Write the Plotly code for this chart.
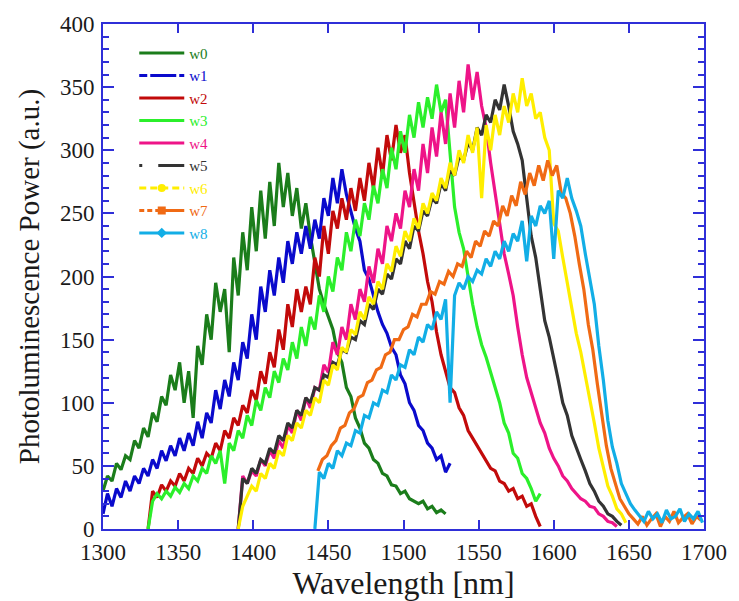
import plotly.graph_objects as go

STEP = 3

W0_START = 1300
W0 = [30, 42, 38, 52, 47, 58, 55, 70, 64, 80, 73, 92, 85, 105, 98, 122, 110, 132, 100, 125,
      88, 145, 130, 170, 150, 195, 172, 190, 140, 215, 185, 235, 205, 255, 220, 268, 230, 275,
      240, 290, 255, 282, 248, 270, 238, 258, 232, 210, 190, 178, 168, 158, 140, 132, 112, 105,
      88, 80, 68, 64, 55, 52, 44, 42, 35, 34, 28, 30, 24, 22, 20, 22, 16, 18, 13, 15, 12]

W1_START = 1300
W1 = [12, 28, 18, 32, 25, 38, 30, 42, 36, 48, 42, 55, 48, 62, 54, 66, 58, 72, 62, 76, 66, 85,
      72, 92, 84, 110, 95, 118, 105, 132, 118, 148, 135, 170, 150, 192, 172, 205, 185, 215, 195,
      228, 210, 235, 218, 240, 222, 245, 230, 262, 248, 278, 258, 285, 265, 252, 238, 228, 205,
      198, 185, 172, 162, 155, 144, 138, 122, 115, 100, 94, 82, 78, 68, 64, 55, 58, 45, 52]

W2_START = 1330
W2 = [0, 30, 25, 35, 30, 38, 34, 44, 38, 48, 44, 56, 50, 60, 56, 68, 62, 78, 72, 88, 82, 98,
      92, 110, 102, 125, 115, 140, 128, 158, 142, 178, 160, 190, 172, 192, 178, 215, 200, 240,
      218, 252, 238, 262, 245, 270, 252, 278, 260, 290, 270, 302, 280, 312, 292, 320, 298, 312,
      282, 258, 236, 218, 196, 180, 156, 138, 125, 112, 108, 96, 90, 78, 72, 66, 60, 55, 48,
      46, 38, 36, 30, 32, 24, 26, 18, 20, 10, 2]

W3_START = 1330
W3 = [0, 22, 28, 24, 30, 26, 33, 29, 36, 32, 42, 38, 48, 44, 58, 52, 62, 36, 68, 62, 78, 72,
      90, 82, 102, 94, 112, 104, 125, 116, 135, 126, 148, 135, 160, 145, 168, 158, 185, 172,
      200, 188, 215, 205, 235, 220, 245, 232, 258, 245, 272, 258, 285, 270, 302, 285, 315, 298,
      328, 310, 338, 318, 342, 325, 352, 330, 340, 300, 255, 235, 222, 200, 178, 160, 146, 136,
      124, 110, 100, 84, 76, 60, 56, 44, 40, 32, 22, 28]

W4_START = 1390
W4 = [0, 42, 36, 46, 42, 55, 50, 62, 56, 70, 64, 82, 76, 94, 86, 104, 96, 112, 110, 130, 124,
      148, 138, 160, 150, 178, 166, 190, 180, 208, 195, 222, 210, 240, 228, 250, 238, 268, 255,
      285, 268, 305, 282, 318, 295, 330, 305, 345, 318, 355, 330, 368, 340, 362, 335, 318, 290,
      265, 240, 218, 202, 185, 160, 138, 120, 108, 96, 84, 76, 64, 56, 50, 42, 38, 32, 28, 24,
      22, 18, 17, 12, 10, 6, 5, 2]

W5_START = 1390
W5 = [0, 40, 36, 48, 44, 55, 52, 64, 60, 74, 70, 84, 80, 94, 90, 104, 100, 112, 110, 122, 120,
      132, 130, 142, 140, 152, 150, 165, 162, 178, 174, 190, 186, 202, 198, 214, 210, 228, 222,
      240, 236, 252, 248, 262, 258, 274, 268, 285, 280, 295, 292, 306, 300, 318, 312, 328, 322,
      340, 332, 352, 335, 315, 305, 292, 262, 232, 215, 190, 165, 152, 136, 118, 100, 90, 74,
      64, 55, 46, 36, 30, 22, 18, 12, 10, 6, 3]

W6_START = 1390
W6 = [0, 18, 26, 34, 30, 44, 40, 52, 48, 62, 58, 74, 70, 84, 80, 94, 90, 104, 100, 118, 114,
      130, 126, 144, 140, 158, 154, 172, 166, 184, 178, 196, 190, 210, 204, 224, 216, 236, 228,
      246, 238, 258, 250, 266, 260, 278, 270, 290, 280, 300, 290, 312, 298, 318, 262, 320, 300,
      328, 312, 335, 322, 345, 330, 357, 335, 345, 325, 330, 310, 300, 242, 236, 215, 195, 172,
      155, 140, 122, 104, 84, 64, 48, 34, 26, 16, 12, 5]

W7_START = 1443
W7 = [46, 55, 58, 66, 70, 80, 82, 92, 95, 104, 106, 116, 118, 126, 128, 138, 140, 150, 150,
      158, 160, 170, 168, 178, 178, 188, 186, 196, 194, 204, 200, 210, 208, 220, 215, 228, 224,
      236, 232, 244, 240, 256, 248, 264, 256, 275, 265, 282, 272, 288, 276, 292, 280, 288, 266,
      262, 250, 232, 210, 190, 162, 142, 115, 90, 66, 48, 36, 24, 18, 12, 8, 4, 10, 3, 8, 12,
      2, 10, 6, 14, 5, 9, 12, 4, 10, 7]

W8_START = 1441
W8 = [0, 45, 40, 52, 48, 62, 58, 68, 66, 78, 76, 90, 88, 100, 98, 110, 108, 122, 118, 130, 128,
      142, 138, 152, 148, 162, 158, 172, 166, 182, 100, 185, 195, 190, 200, 196, 205, 202, 214,
      208, 220, 214, 228, 220, 234, 228, 244, 212, 248, 240, 256, 250, 260, 214, 268, 262, 278,
      262, 252, 240, 218, 198, 178, 145, 118, 86, 65, 52, 36, 28, 20, 15, 10, 6, 14, 8, 12, 5,
      15, 8, 10, 16, 6, 12, 8, 14, 5]

NAMES = ["w0", "w1", "w2", "w3", "w4", "w5", "w6", "w7", "w8"]
STARTS = [W0_START, W1_START, W2_START, W3_START, W4_START, W5_START, W6_START, W7_START, W8_START]
VALUES = [W0, W1, W2, W3, W4, W5, W6, W7, W8]
COLORS = ["#1b7d1b", "#0a0acc", "#c20a0a", "#2bef2b", "#ee1488",
          "#333333", "#ffee00", "#f06a14", "#12aee6"]
LEG_DASH = ["solid", "8px,3px,26px,3px", "solid", "solid", "solid",
            "3px,16px,28px,3px", "7px,4px", "5px,3px,5px,3px,40px,3px", "solid"]
LEG_MARK = [None, None, None, None, None, None, "circle", "square", "diamond"]

X_TICKS = [1300, 1350, 1400, 1450, 1500, 1550, 1600, 1650, 1700]
Y_TICKS = [0, 50, 100, 150, 200, 250, 300, 350, 400]

AXIS_BLUE = "#2f2fd8"
FONT = "'Liberation Serif', 'Times New Roman', Times, serif"
TXT = "#1a1a1a"

fig = go.Figure()
for name, start, vals, col in zip(NAMES, STARTS, VALUES, COLORS):
    xs = [start + STEP * i for i in range(len(vals))]
    fig.add_trace(go.Scatter(x=xs, y=vals, mode="lines", showlegend=False,
                             line=dict(color=col, width=3.2), hoverinfo="skip"))

for name, col, dash, mk in zip(NAMES, COLORS, LEG_DASH, LEG_MARK):
    fig.add_trace(go.Scatter(
        x=[None], y=[None],
        mode="lines+markers" if mk else "lines",
        name=f'<span style="color:{col}">{name}</span>',
        line=dict(color=col, width=3, dash=dash),
        marker=dict(symbol=mk or "circle", size=8, color=col),
    ))

axis_common = dict(showline=True, linecolor=AXIS_BLUE, linewidth=2, mirror="ticks",
                   ticks="inside", tickcolor=AXIS_BLUE, tickwidth=2, showgrid=False,
                   zeroline=False, tickfont=dict(family=FONT, size=23, color=TXT))

fig.update_xaxes(range=[1300, 1700], tickvals=X_TICKS, ticklen=9, ticklabelstandoff=1,
                 **axis_common,
                 title=dict(text="Wavelength [nm]", font=dict(family=FONT, size=32, color=TXT),
                            standoff=2))
fig.update_yaxes(range=[0, 400], tickvals=Y_TICKS, ticklen=11, ticklabelstandoff=2,
                 **axis_common,
                 minor=dict(dtick=10, ticklen=6, tickcolor=AXIS_BLUE, tickwidth=2, ticks="inside"),
                 title=dict(text="Photoluminescence Power (a.u.)",
                            font=dict(family=FONT, size=29, color=TXT), standoff=12))

fig.update_layout(
    width=739, height=601,
    margin=dict(l=103, r=29, t=24, b=72),
    paper_bgcolor="white", plot_bgcolor="white",
    font=dict(family=FONT, color=TXT),
    legend=dict(x=0.052, y=0.975, xanchor="left", yanchor="top", bgcolor="rgba(0,0,0,0)",
                font=dict(family=FONT, size=15), tracegroupgap=0, itemwidth=45),
)

fig.write_html("out.html")
